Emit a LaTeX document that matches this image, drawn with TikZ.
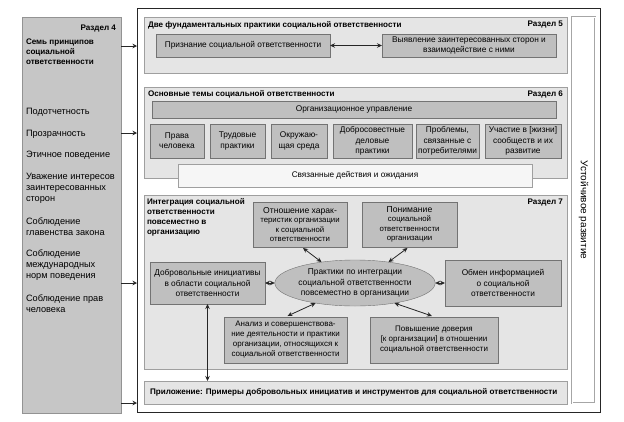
\documentclass[tikz,border=0pt]{standalone}
\usepackage{fontspec}
\setmainfont{Liberation Sans}
\usetikzlibrary{arrows.meta,shapes.geometric,calc}
\newcommand\fz[2]{\fontsize{#1}{#2}\selectfont}
\begin{document}
\begin{tikzpicture}[x=1pt,y=-1pt,
  every node/.style={inner sep=0pt, outer sep=0pt},
  leftpanel/.style={draw=gray!85, fill=gray!45, anchor=north west},
  frm/.style={draw=black!85, line width=0.9pt, fill=white, anchor=north west},
  sect/.style={draw=gray!75, fill=gray!20, anchor=north west},
  ibox/.style={draw=black!55, fill=gray!50, anchor=north west, align=center, font=\fz{8.3}{10.2}},
  lbox/.style={draw=gray!75, fill=gray!7, anchor=north west, align=center, font=\fz{8.2}{10}},
  sdbox/.style={draw=gray!70, fill=white, anchor=north west, double=white, double distance=0.6pt},
  ttl/.style={font=\bfseries\fz{8.1}{10}, align=left},
  ltxt/.style={font=\fz{9.2}{11}, align=left, anchor=west},
  conn/.style={draw=black!85, line width=0.8pt, -{Stealth[length=4.5pt,width=4.5pt]}},
  dbl/.style={draw=black!85, line width=0.8pt, {Stealth[length=5pt,width=4.5pt]}-{Stealth[length=5pt,width=4.5pt]}}
]
\useasboundingbox (0,0) rectangle (624,421);

% left panel (section 4)
\node[leftpanel, minimum width=99pt, minimum height=396pt] (p4) at (22,17) {};
\node[ttl, anchor=east] (p4h) at (116,29) {Раздел 4};
\node[ttl, anchor=west] (p4t) at (26,52) {Семь принципов\\социальной\\ответственности};
\node[ltxt] (q1) at (26,112) {Подотчетность};
\node[ltxt] (q2) at (26,134) {Прозрачность};
\node[ltxt] (q3) at (26,155) {Этичное поведение};
\node[ltxt] (q4) at (26,188) {Уважение интересов\\заинтересованных\\сторон};
\node[ltxt] (q5) at (26,226.5) {Соблюдение\\главенства закона};
\node[ltxt] (q6) at (26,265) {Соблюдение\\международных\\норм поведения};
\node[ltxt] (q7) at (26,303.5) {Соблюдение прав\\человека};

% main frame
\node[frm, minimum width=463pt, minimum height=404pt] (frame) at (137,8) {};

% right column
\node[sdbox, minimum width=23pt, minimum height=386pt] (sd) at (572,17) {};
\node[rotate=-90, font=\fz{10}{12}] (sdt) at (sd.center) {Устойчивое развитие};

% section 5
\node[sect, minimum width=423pt, minimum height=56pt] (s5) at (144,17) {};
\node[ttl, anchor=west] (s5t) at (148,25) {Две фундаментальных практики социальной ответственности};
\node[ttl, anchor=east] (s5r) at (563,25) {Раздел 5};
\node[ibox, minimum width=174pt, minimum height=23pt] (b51) at (156,34) {Признание социальной ответственности};
\node[ibox, minimum width=174pt, minimum height=23pt] (b52) at (382,34) {Выявление заинтересованных сторон и\\взаимодействие с ними};
\draw[dbl] (b51.east) -- (b52.west);

% section 6
\node[sect, minimum width=423pt, minimum height=91pt] (s6) at (144,87) {};
\node[ttl, anchor=west] (s6t) at (148,94) {Основные темы социальной ответственности};
\node[ttl, anchor=east] (s6r) at (563,94) {Раздел 6};
\node[ibox, minimum width=404pt, minimum height=17pt] (o6) at (152,101) {Организационное управление};
\node[ibox, minimum width=54pt, minimum height=34pt] (t1) at (150,124) {Права\\человека};
\node[ibox, minimum width=55pt, minimum height=34pt] (t2) at (210,124) {Трудовые\\практики};
\node[ibox, minimum width=56pt, minimum height=34pt] (t3) at (271,124) {Окружаю-\\щая среда};
\node[ibox, minimum width=79pt, minimum height=34pt] (t4) at (333,124) {Добросовестные\\деловые\\практики};
\node[ibox, minimum width=63pt, minimum height=34pt] (t5) at (416,124) {Проблемы,\\связанные с\\потребителями};
\node[ibox, minimum width=76pt, minimum height=34pt] (t6) at (485,124) {Участие в [жизни]\\сообществ и их\\развитие};
\node[lbox, minimum width=354pt, minimum height=23pt] (rel) at (178,164) {Связанные действия и ожидания};

% section 7
\node[sect, minimum width=423pt, minimum height=174pt] (s7) at (144,195) {};
\node[ttl, anchor=north west] (s7t) at (147,198) {Интеграция социальной\\ответственности\\повсеместно в\\организацию};
\node[ttl, anchor=east] (s7r) at (563,203) {Раздел 7};
\node[ibox, font=\fz{7.8}{9.5}, minimum width=94pt, minimum height=45pt] (r1) at (253,202) {{\fz{8.6}{10}Отношение харак-}\\теристик организации\\к социальной\\ответственности};
\node[ibox, font=\fz{7.8}{9.5}, minimum width=95pt, minimum height=45pt] (r2) at (362,202) {{\fz{8.6}{10}Понимание}\\социальной\\ответственности\\организации};
\node[ibox, minimum width=115pt, minimum height=42pt] (r3) at (150,262) {Добровольные инициативы\\в области социальной\\ответственности};
\node[ellipse, draw=black!55, fill=gray!50, minimum width=136pt, minimum height=46pt, align=center, font=\fz{8.4}{10.2}] (ell) at (355,283) {Практики по интеграции\\социальной ответственности\\повсеместно в организации};
\node[ibox, minimum width=116pt, minimum height=46pt] (r4) at (445,260) {Обмен информацией\\о социальной\\ответственности};
\node[ibox, font=\fz{8}{10}, minimum width=123pt, minimum height=46pt] (r5) at (224,317) {Анализ и совершенствова-\\ние деятельности и практики\\организации, относящихся к\\социальной ответственности};
\node[ibox, font=\fz{8}{10}, minimum width=128pt, minimum height=46pt] (r6) at (370,317) {Повышение доверия\\{[}к организации{]} в отношении\\социальной ответственности};

% appendix
\node[sect, minimum width=423pt, minimum height=23pt] (app) at (144,381) {};
\node[ttl, anchor=west] (appt) at (150,392.5) {Приложение: Примеры добровольных инициатив и инструментов для социальной ответственности};

% connectors from section 4 to frame
\coordinate (l1) at (0,46);
\coordinate (l2) at (0,133);
\coordinate (l3) at (0,283);
\coordinate (l4) at (0,403);
\draw[conn] (p4.east |- l1) -- (frame.west |- l1);
\draw[conn] (p4.east |- l2) -- (frame.west |- l2);
\draw[conn] (p4.east |- l3) -- (frame.west |- l3);
\draw[conn] (p4.east |- l4) -- (frame.west |- l4);

% section 7 arrows
\draw[dbl] ($(r1.south)+(3,1)$) -- (ell.148);
\draw[dbl] ($(r2.south)+(-2,1)$) -- (ell.32);
\draw[dbl] (r3.east) -- (ell.west);
\draw[dbl] (ell.east) -- (r4.west);
\draw[dbl] (ell.207) -- ($(r5.north)+(2,-1)$);
\draw[dbl] (ell.-27) -- ($(r6.north)+(-2,-1)$);
\draw[dbl] (r3.south) -- (app.north -| r3.south);
\end{tikzpicture}
\end{document}
